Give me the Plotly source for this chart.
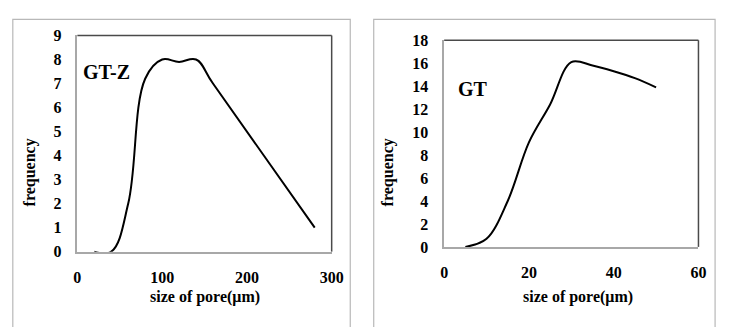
import plotly.graph_objects as go

# GT-Z panel
gtz_size = [20, 40, 60, 80, 100, 120, 140, 160, 280]
gtz_freq = [0, 0, 2, 7.2, 8, 7.9, 8, 7.0, 1]
# GT panel
gt_size = [5, 10, 15, 20, 25, 30, 35, 40, 45, 50]
gt_freq = [0, 0.7, 4.0, 9.1, 12.4, 16.1, 15.8, 15.3, 14.7, 13.9]

left_xticks = [0, 100, 200, 300]
left_yticks = list(range(0, 10))
right_xticks = [0, 20, 40, 60]
right_yticks = list(range(0, 20, 2))

W, H = 731, 327
FONT = "Liberation Serif, Times New Roman, serif"

def px(x):
    return x / W

def py(y):
    return 1 - y / H

fig = go.Figure()
fig.add_trace(go.Scatter(x=gtz_size, y=gtz_freq, mode="lines",
                         line=dict(color="black", width=2, shape="spline", smoothing=1.1),
                         xaxis="x", yaxis="y", showlegend=False))
fig.add_trace(go.Scatter(x=gt_size, y=gt_freq, mode="lines",
                         line=dict(color="black", width=2, shape="spline", smoothing=1.0),
                         xaxis="x2", yaxis="y2", showlegend=False))

def tfont():
    return dict(family=FONT, size=16, color="black", weight="bold")

def axis_common():
    return dict(showgrid=False, zeroline=False, showline=True, linecolor="#a8a8a8",
                linewidth=1.5, ticks="", tickfont=tfont())

fig.update_layout(
    width=W, height=H, margin=dict(l=0, r=0, t=0, b=0),
    paper_bgcolor="white", plot_bgcolor="white",
    xaxis=dict(domain=[px(75), px(335)], range=[0, 300], tickvals=left_xticks,
               anchor="y", ticklabelstandoff=10, **axis_common()),
    yaxis=dict(domain=[py(257), py(29)], range=[0, 9], tickvals=left_yticks,
               anchor="x", ticklabelstandoff=11, **axis_common()),
    xaxis2=dict(domain=[px(450), px(710)], range=[0, 60], tickvals=right_xticks,
                anchor="y2", ticklabelstandoff=10, **axis_common()),
    yaxis2=dict(domain=[py(252), py(34)], range=[0, 18], tickvals=right_yticks,
                anchor="x2", ticklabelstandoff=11, **axis_common()),
)

shapes = []
# outer boxes
for x0, x1 in [(9, 354), (378, 727)]:
    shapes.append(dict(type="rect", xref="paper", yref="paper",
                       x0=px(x0), x1=px(x1), y0=py(340), y1=py(12),
                       line=dict(color="#b8b8b8", width=1.2), fillcolor="rgba(0,0,0,0)"))
# dark top/right frame lines
for xa, ya in [("x", "y"), ("x2", "y2")]:
    shapes.append(dict(type="line", xref=f"{xa} domain", yref=f"{ya} domain",
                       x0=0, x1=1, y0=1, y1=1, line=dict(color="#4a4a4a", width=1.5)))
    shapes.append(dict(type="line", xref=f"{xa} domain", yref=f"{ya} domain",
                       x0=1, x1=1, y0=0, y1=1, line=dict(color="#4a4a4a", width=1.5)))
fig.update_layout(shapes=shapes)

titlefont = dict(family=FONT, size=16, color="black", weight="bold")
ann = []
for cx in [205, 587]:
    ann.append(dict(text="size of pore(μm)", xref="paper", yref="paper",
                    x=px(cx), y=py(305), showarrow=False, font=titlefont,
                    xanchor="center", yanchor="middle"))
for cx in [27, 393]:
    ann.append(dict(text="frequency", xref="paper", yref="paper",
                    x=px(cx), y=py(173), showarrow=False, font=titlefont,
                    textangle=-90, xanchor="center", yanchor="middle"))
lblfont = dict(family=FONT, size=20, color="black", weight="bold")
ann.append(dict(text="GT-Z", xref="paper", yref="paper", x=px(105), y=py(68),
                showarrow=False, font=lblfont, xanchor="center", yanchor="middle"))
ann.append(dict(text="GT", xref="paper", yref="paper", x=px(480), y=py(85),
                showarrow=False, font=lblfont, xanchor="center", yanchor="middle"))
fig.update_layout(annotations=ann)

fig.write_html("out.html",
               config={"displayModeBar": False},
               post_script="document.body.style.margin='0px';"
                           "document.body.style.overflow='hidden';")
